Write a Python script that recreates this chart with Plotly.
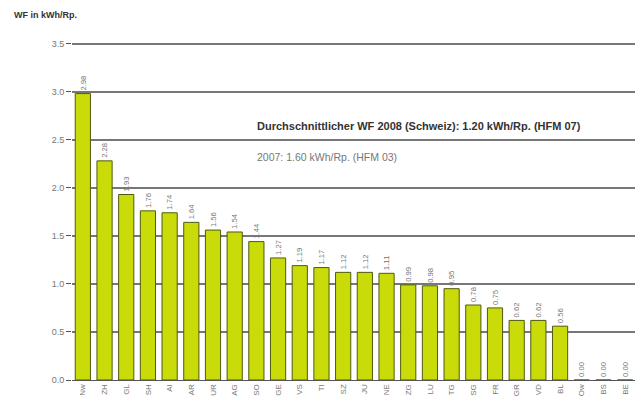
import plotly.graph_objects as go

# Kantone, sortiert nach WF 2008
kantone = [
    "Nw", "ZH", "GL", "SH", "AI", "AR", "UR", "AG", "SO", "GE", "VS", "TI", "SZ",
    "JU", "NE", "ZG", "LU", "TG", "SG", "FR", "GR", "VD", "BL", "Ow", "BS", "BE",
]
wf_werte = [
    2.98, 2.28, 1.93, 1.76, 1.74, 1.64, 1.56, 1.54, 1.44, 1.27, 1.19, 1.17, 1.12,
    1.12, 1.11, 0.99, 0.98, 0.95, 0.78, 0.75, 0.62, 0.62, 0.56, 0.00, 0.00, 0.00,
]
y_ticks = [0.0, 0.5, 1.0, 1.5, 2.0, 2.5, 3.0, 3.5]

BAR_COLOR = "#c9dc0a"
BAR_LINE = "#4f5a10"
GRID_COLOR = "#777777"
TEXT_GRAY = "#777777"

fig = go.Figure()
fig.add_trace(
    go.Bar(
        x=kantone,
        y=wf_werte,
        marker=dict(color=BAR_COLOR, line=dict(color=BAR_LINE, width=1)),
        text=[f"{v:.2f}" for v in wf_werte],
        textposition="outside",
        textangle=-90,
        textfont=dict(size=8.5, color=TEXT_GRAY, family="Liberation Sans, Arial"),
        cliponaxis=False,
        hoverinfo="skip",
    )
)

fig.add_annotation(
    text="<b>Durchschnittlicher WF 2008 (Schweiz): 1.20 kWh/Rp. (HFM 07)</b>",
    xref="paper", yref="y", x=0.324, y=2.64, xanchor="left", yanchor="middle",
    showarrow=False, font=dict(size=11, color="#333333"),
)
fig.add_annotation(
    text="2007: 1.60 kWh/Rp. (HFM 03)",
    xref="paper", yref="y", x=0.324, y=2.32, xanchor="left", yanchor="middle",
    showarrow=False, font=dict(size=10.5, color="#777777"),
)
fig.add_annotation(
    text="<b>WF in kWh/Rp.</b>",
    xref="paper", yref="paper", x=-0.107, y=1.055, xanchor="left", yanchor="middle",
    showarrow=False, font=dict(size=9, color="#333333"),
)

# the page adds an 8px body margin, so the figure is slightly smaller than the window
fig.update_layout(
    width=635,
    height=406,
    template="plotly_white",
    paper_bgcolor="white",
    plot_bgcolor="white",
    font=dict(family="Liberation Sans, Arial", color=TEXT_GRAY),
    margin=dict(l=64, r=7, t=26, b=34),
    bargap=0.3,
    showlegend=False,
)
fig.update_xaxes(
    tickangle=-90,
    tickfont=dict(size=8, color=TEXT_GRAY),
    showline=True,
    linecolor="#555555",
    linewidth=1,
    showgrid=False,
    ticks="",
    range=[-0.5, len(kantone) - 0.5],
)
fig.update_yaxes(
    range=[0, 3.6],
    tickvals=y_ticks,
    tickformat=".1f",
    tickfont=dict(size=9, color=TEXT_GRAY),
    showgrid=True,
    gridcolor=GRID_COLOR,
    gridwidth=1.5,
    ticks="outside",
    ticklen=5,
    tickcolor="#555555",
    zeroline=False,
    showline=False,
)

fig.write_html("out.html")
